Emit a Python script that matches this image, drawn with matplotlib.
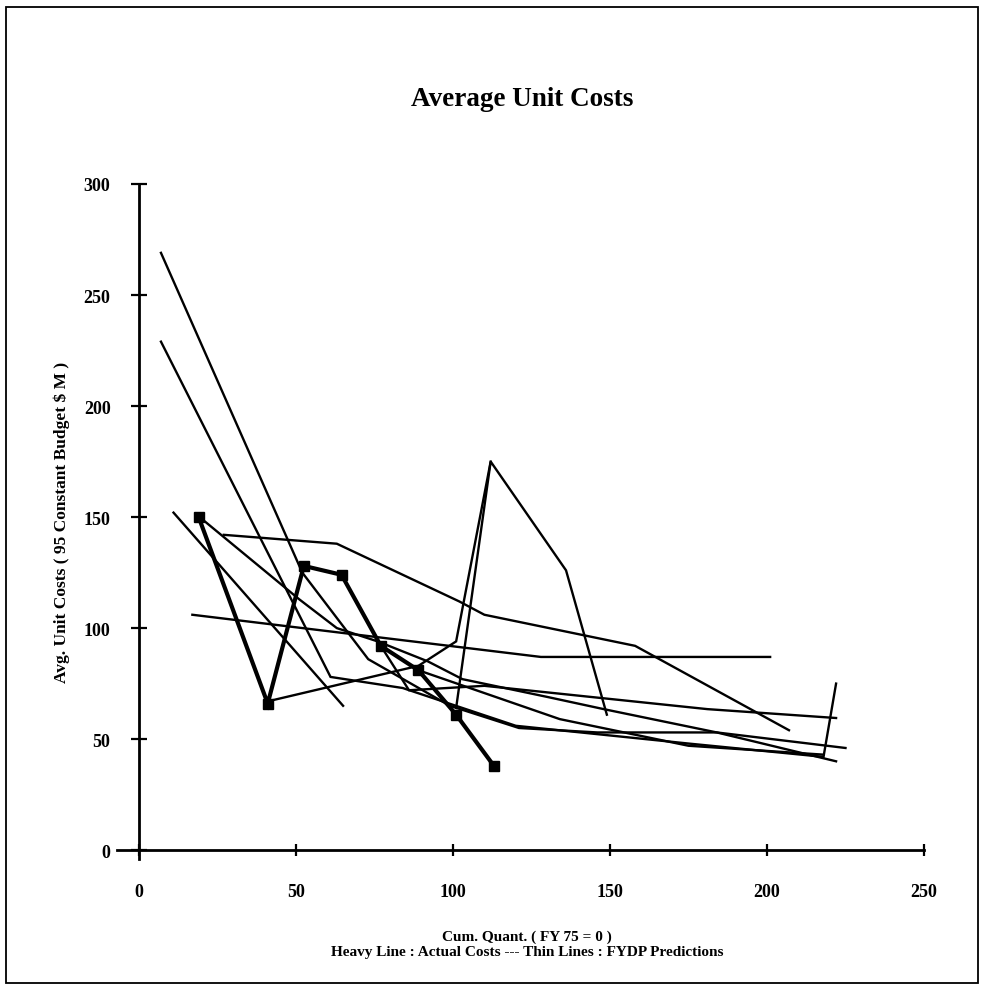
"""
plot.py
=======
Average unit costs: actual costs (heavy line) against FYDP predictions
(thin lines), plotted over cumulative quantity.

Usage:
    python plot.py
"""

import matplotlib
matplotlib.use("Agg")
import matplotlib.pyplot as plt
from matplotlib.patches import Rectangle

# ---------------------------------------------------------------------------
# Actual costs (heavy line with square markers)
ACTUAL_X = [19, 41, 52.5, 64.5, 77, 89, 101, 113]
ACTUAL_Y = [150, 66, 128, 124, 92, 81, 61, 38]

# FYDP predictions (thin lines)
PRED_A_X = [7, 52, 73, 99, 121, 146, 184, 222]
PRED_A_Y = [269, 125, 86, 65, 55, 53, 53, 40]

PRED_B_X = [7, 61, 84, 120, 175, 218, 222]
PRED_B_Y = [229, 78, 73, 56, 48, 42, 75]

PRED_C_X = [11, 65]
PRED_C_Y = [152, 65]

PRED_D_X = [21, 51, 63, 76, 92, 103, 130, 148, 184, 225]
PRED_D_Y = [148, 113, 100, 94, 85, 77, 69, 63.5, 53, 46]

PRED_E_X = [27, 63, 102, 110, 158, 207]
PRED_E_Y = [142, 138, 112, 106, 92, 54]

PRED_F_X = [17, 128, 201]
PRED_F_Y = [106, 87, 87]

PRED_G_X = [41, 89, 101, 112]
PRED_G_Y = [67, 83, 94, 175]

PRED_H_X = [101, 112, 136, 149]
PRED_H_Y = [64, 175, 126, 61]

PRED_K_X = [77, 86, 110, 181, 222]
PRED_K_Y = [92, 72, 74, 63.5, 59.5]

PRED_L_X = [89, 134, 175, 218]
PRED_L_Y = [81, 59, 47, 43]

PREDICTIONS = [
    (PRED_A_X, PRED_A_Y), (PRED_B_X, PRED_B_Y), (PRED_C_X, PRED_C_Y),
    (PRED_D_X, PRED_D_Y), (PRED_E_X, PRED_E_Y), (PRED_F_X, PRED_F_Y),
    (PRED_G_X, PRED_G_Y), (PRED_H_X, PRED_H_Y), (PRED_K_X, PRED_K_Y),
    (PRED_L_X, PRED_L_Y),
]

X_TICKS = [0, 50, 100, 150, 200, 250]
Y_TICKS = [0, 50, 100, 150, 200, 250, 300]

TITLE = "Average Unit Costs"
X_LABEL = "Cum. Quant. ( FY 75 = 0 )"
NOTE = "Heavy Line : Actual Costs --- Thin Lines : FYDP Predictions"
Y_LABEL = "Avg. Unit Costs ( 95 Constant Budget $ M )"

FONT = "Liberation Serif"


# ---------------------------------------------------------------------------
def make_chart(out_path="out.png"):
    fig = plt.figure(figsize=(9.81, 9.95), dpi=100, facecolor="white")

    # page frame round the whole chart
    fig.patches.append(Rectangle(
        (6 / 981, 11 / 995), 972 / 981, 976 / 995,
        transform=fig.transFigure, fill=False, edgecolor="black",
        linewidth=1.3,
    ))

    ax = fig.add_axes([117 / 981, 135 / 995, 807 / 981, 675 / 995])
    ax.set_xlim(-7, 250)
    ax.set_ylim(-4, 300)

    for xs, ys in PREDICTIONS:
        ax.plot(xs, ys, color="black", linewidth=1.7, solid_joinstyle="miter")

    ax.plot(ACTUAL_X, ACTUAL_Y, color="black", linewidth=3.0,
            marker="s", markersize=7, solid_joinstyle="miter")

    # axes styling: only the two crossing axis lines
    for side in ("top", "right"):
        ax.spines[side].set_visible(False)
    ax.spines["left"].set_position(("data", 0))
    ax.spines["bottom"].set_position(("data", 0))
    ax.spines["left"].set_bounds(-4, 300)
    ax.spines["bottom"].set_bounds(-7, 250)
    for side in ("left", "bottom"):
        ax.spines[side].set_linewidth(2.0)

    ax.set_xticks(X_TICKS)
    ax.set_yticks(Y_TICKS)
    ax.tick_params(axis="x", direction="inout", length=9, width=1.6, pad=19)
    ax.tick_params(axis="y", direction="inout", length=11, width=1.6, pad=15)
    for lab in ax.get_xticklabels() + ax.get_yticklabels():
        lab.set_fontfamily(FONT)
        lab.set_fontweight("bold")
        lab.set_fontsize(13)

    ax.set_ylabel(Y_LABEL, fontfamily=FONT, fontweight="bold", fontsize=12.5,
                  labelpad=10)

    fig.text(522 / 981, 1 - 100 / 995, TITLE, ha="center", va="center",
             fontfamily=FONT, fontweight="bold", fontsize=19.5)
    fig.text(527 / 981, 1 - 937 / 995, X_LABEL, ha="center", va="center",
             fontfamily=FONT, fontweight="bold", fontsize=11)
    fig.text(527 / 981, 1 - 953 / 995, NOTE, ha="center", va="center",
             fontfamily=FONT, fontweight="bold", fontsize=11)

    fig.savefig(out_path, dpi=100, facecolor=fig.get_facecolor())
    plt.close(fig)


def main():
    make_chart("out.png")


if __name__ == "__main__":
    main()
